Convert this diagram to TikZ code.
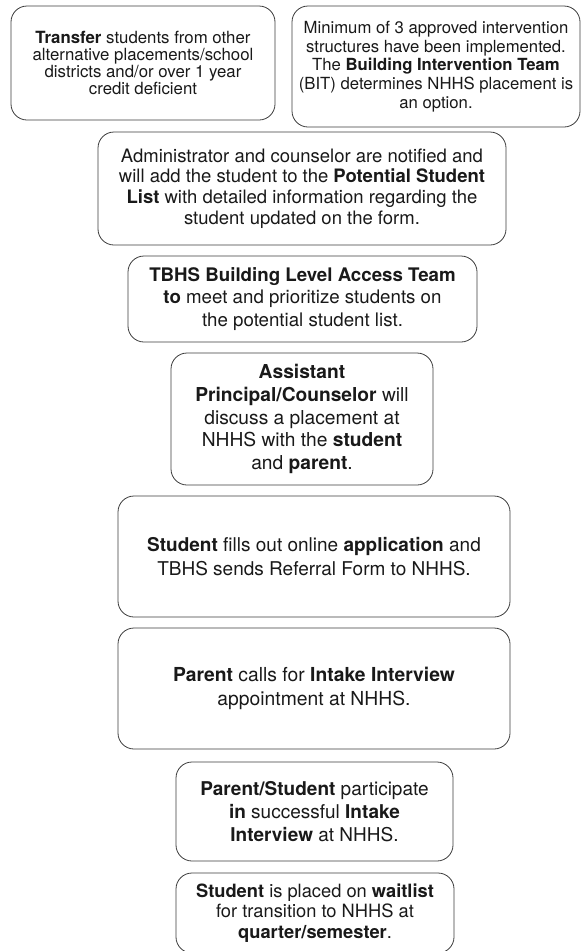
\documentclass[tikz,border=0pt]{standalone}
\usepackage{fontspec}
\setmainfont{TeX Gyre Heros}
\usepackage{xcolor}
\usepackage{tikz}
\definecolor{boxline}{RGB}{60,60,60}
\definecolor{boxtext}{RGB}{25,25,25}
\tikzset{
  stepbox/.style={draw=boxline, line width=0.8pt, rounded corners=16pt,
    align=center, text=boxtext, inner sep=0pt},
}
\newcommand{\fsz}[2]{\fontsize{#1}{#2}\selectfont}

\begin{document}
\begin{tikzpicture}[x=1pt,y=-1pt]
                \useasboundingbox (0,0) rectangle (581,951);

                \node[stepbox,minimum width=264,minimum height=114,font=\fsz{16.8}{17}] (transfer) at (143,63)
                  {\textbf{Transfer} students from other\\alternative placements/school\\districts and/or over 1 year\\credit deficient};
                \node[stepbox,minimum width=288,minimum height=121,font=\fsz{16.7}{18.7}] (minimum) at (436,66.5)
                  {Minimum of 3 approved intervention\\structures have been implemented.\\The \textbf{Building Intervention Team}\\(BIT) determines NHHS placement is\\an option.};

                \node[stepbox,minimum width=408,minimum height=113,font=\fsz{18.5}{20.7}] (notified) at (302,188.5)
                  {Administrator and counselor are notified and\\will add the student to the \textbf{Potential Student}\\\textbf{List} with detailed information regarding the\\student updated on the form.};

                \node[stepbox,minimum width=349,minimum height=86,font=\fsz{18.7}{22.7}] (access) at (302.5,299)
                  {\textbf{TBHS Building Level Access Team}\\\textbf{to} meet and prioritize students on\\the potential student list.};

                \node[stepbox,minimum width=262,minimum height=132,font=\fsz{19.2}{22.7}] (discuss) at (302,419)
                  {\textbf{Assistant}\\\textbf{Principal/Counselor} will\\discuss a placement at\\NHHS with the \textbf{student}\\and \textbf{parent}.};

                \node[stepbox,minimum width=392,minimum height=121,font=\fsz{19}{23.3}] (apply) at (314,556.5)
                  {\textbf{Student} fills out online \textbf{application} and\\TBHS sends Referral Form to NHHS.};

                \node[stepbox,minimum width=392,minimum height=121,font=\fsz{19.3}{23.3}] (call) at (314,688.5)
                  {\textbf{Parent} calls for \textbf{Intake Interview}\\appointment at NHHS.};

                \node[stepbox,minimum width=277,minimum height=99,font=\fsz{19}{23.3}] (interview) at (314.5,811.5)
                  {\textbf{Parent/Student} participate\\\textbf{in} successful \textbf{Intake}\\\textbf{Interview} at NHHS.};

                \node[stepbox,minimum width=278,minimum height=80,font=\fsz{18.3}{20.8}] (waitlist) at (315,913)
                  {\textbf{Student} is placed on \textbf{waitlist}\\for transition to NHHS at\\\textbf{quarter/semester}.};
            \end{tikzpicture}
\end{document}
